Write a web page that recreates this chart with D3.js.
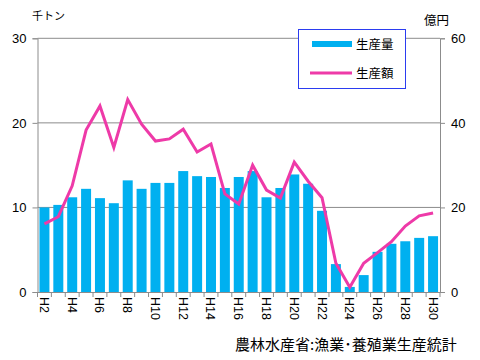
<!DOCTYPE html>
<html><head><meta charset="utf-8">
<script src="https://cdn.jsdelivr.net/npm/d3@7"></script>
<style>body{margin:0;background:#fff}svg{display:block}</style>
</head><body>
<svg id="c" width="480" height="360"></svg>
<script>
const categories = ["H2","H3","H4","H5","H6","H7","H8","H9","H10","H11","H12","H13","H14","H15","H16","H17","H18","H19","H20","H21","H22","H23","H24","H25","H26","H27","H28","H29","H30"];
const production = [10.0,10.3,11.2,12.2,11.1,10.5,13.2,12.2,12.9,12.9,14.3,13.7,13.6,12.3,13.6,14.3,11.2,12.3,13.9,12.8,9.6,3.3,0.6,2.0,4.75,5.7,6.0,6.4,6.6];
const value = [16.1,17.8,25.1,38.3,44.0,34.2,45.5,39.7,35.7,36.2,38.5,33.1,35.0,23.2,20.8,30.0,24.1,22.2,30.7,26.2,22.3,6.8,1.1,6.8,9.3,11.9,15.6,18.0,18.7];
const leftTicks = [0,10,20,30];
const rightTicks = [0,20,40,60];
const seriesNames = ["生産量","生産額"];

const svg = d3.select("#c");
const L = 37.5, R = 440, T = 38.3, B = 292;
const x = d3.scaleBand().domain(categories).range([L, R]).paddingInner(0.28).paddingOuter(0.14);
const yL = d3.scaleLinear().domain([0,30]).range([B, T]);
const yR = d3.scaleLinear().domain([0,60]).range([B, T]);
const grey = "#8c8c8c";
const numFont = "Liberation Sans, Arial, sans-serif";
const jpFont = "'Noto Sans CJK JP', sans-serif";

// gridlines
svg.append("g").selectAll("line").data(leftTicks.slice(1)).join("line")
  .attr("x1", L).attr("x2", R).attr("y1", d => yL(d)).attr("y2", d => yL(d))
  .attr("stroke", grey).attr("stroke-width", 1);

// bars
svg.append("g").selectAll("rect").data(production).join("rect")
  .attr("x", (d,i) => x(categories[i])).attr("width", x.bandwidth())
  .attr("y", d => yL(d)).attr("height", d => B - yL(d))
  .attr("fill", "#00b0f0");

// line
const line = d3.line().x((d,i) => x(categories[i]) + x.bandwidth()/2).y(d => yR(d));
svg.append("path").datum(value).attr("d", line).attr("fill","none")
  .attr("stroke", "#ee3aa8").attr("stroke-width", 3).attr("stroke-linejoin","miter");

// axes
const axL = svg.append("g").attr("transform", `translate(${L},0)`)
  .call(d3.axisLeft(yL).tickValues(leftTicks).tickSize(5).tickPadding(6));
const axR = svg.append("g").attr("transform", `translate(${R},0)`)
  .call(d3.axisRight(yR).tickValues(rightTicks).tickSize(5).tickPadding(6));
const axB = svg.append("g").attr("transform", `translate(0,${B})`)
  .call(d3.axisBottom(x).tickSize(0).tickFormat(""));
[axL, axR, axB].forEach(g => {
  g.select(".domain").attr("stroke", grey);
  g.selectAll(".tick line").attr("stroke", grey);
  g.selectAll("text").attr("font-family", numFont).attr("font-size", 13).attr("fill", "#000");
});
axB.selectAll(".tick").remove();
// category boundary ticks
svg.append("g").selectAll("line").data(d3.range(categories.length + 1)).join("line")
  .attr("x1", i => L + i * (R - L) / categories.length).attr("x2", i => L + i * (R - L) / categories.length)
  .attr("y1", B).attr("y2", B + 5).attr("stroke", grey);
// category labels
svg.append("g").selectAll("text").data(categories.filter((d,i) => i % 2 === 0)).join("text")
  .attr("transform", d => `translate(${x(d) + x.bandwidth()/2 - 4.5},${B + 5}) rotate(90)`)
  .attr("font-family", numFont).attr("font-size", 12.5).attr("fill", "#000")
  .attr("text-anchor", "start").text(d => d);

// axis unit labels
svg.append("text").attr("x", 32).attr("y", 20).attr("font-family", jpFont).attr("font-size", 11)
  .text("千トン");
svg.append("text").attr("x", 424).attr("y", 25).attr("font-family", jpFont).attr("font-size", 12.5)
  .text("億円");

// legend
const lg = svg.append("g");
lg.append("rect").attr("x", 298.5).attr("y", 29.5).attr("width", 107).attr("height", 59)
  .attr("fill", "#fff").attr("stroke", "#2b3cf0").attr("stroke-width", 1);
lg.append("line").attr("x1", 312).attr("x2", 352).attr("y1", 44).attr("y2", 44)
  .attr("stroke", "#00b0f0").attr("stroke-width", 6);
lg.append("line").attr("x1", 310).attr("x2", 352).attr("y1", 73).attr("y2", 73)
  .attr("stroke", "#ee3aa8").attr("stroke-width", 3);
lg.selectAll("text").data(seriesNames).join("text")
  .attr("x", 356).attr("y", (d,i) => 44 + i * 29).attr("dy", "0.36em")
  .attr("font-family", jpFont).attr("font-size", 12.5).text(d => d);

// source
svg.append("text").attr("x", 235).attr("y", 350).attr("font-family", jpFont).attr("font-size", 15)
  .text("農林水産省:漁業･養殖業生産統計");
</script>
</body></html>
